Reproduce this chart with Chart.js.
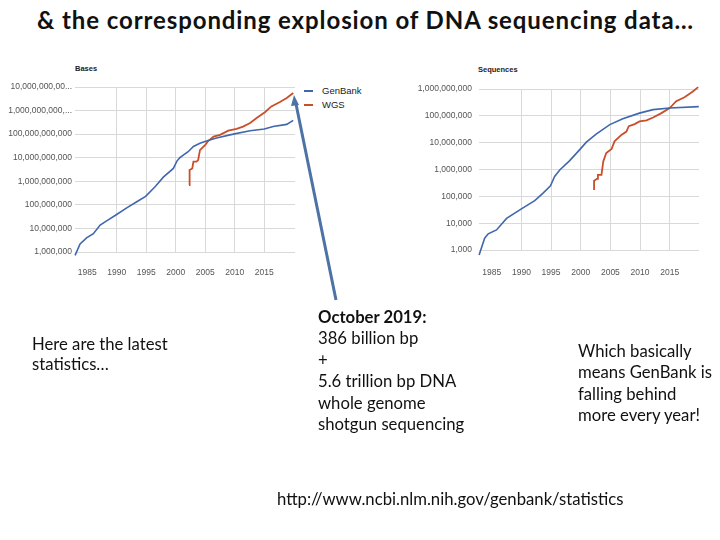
<!DOCTYPE html>
<html>
<head>
<meta charset="utf-8">
<script src="https://cdn.jsdelivr.net/npm/chart.js@4/dist/chart.umd.min.js"></script>
<style>
  body { margin: 0; width: 720px; height: 540px; background: #fff; position: relative; overflow: hidden; font-family: Lato, "Noto Sans", sans-serif; color: #111; }
  .abs { position: absolute; white-space: nowrap; }
  .title { left: 37px; top: 5px; font-size: 24px; letter-spacing: 0.9px; font-weight: bold; }
  .slide-text { font-size: 16.7px; line-height: 21.4px; }
  .small { font-family: "Liberation Sans", Arial, sans-serif; color: #222; }
  .legend-line { position: absolute; width: 9px; }
</style>
</head>
<body>
<div class="abs title" id="title">&amp; the corresponding explosion of DNA sequencing data…</div>

<div class="abs small" style="left:75px; top:64px; font-size:7.5px; font-weight:bold;">Bases</div>
<div class="abs small" style="left:478px; top:65px; font-size:7.5px; font-weight:bold;">Sequences</div>

<div class="abs" style="left:0; top:60px;"><canvas id="basesChart" width="300" height="225"></canvas></div>
<div class="abs" style="left:400px; top:60px;"><canvas id="seqChart" width="310" height="225"></canvas></div>

<div class="legend-line" style="left:304px; top:90px; height:1.5px; background:#4067ad;"></div>
<div class="abs small" style="left:322px; top:85px; font-size:9.5px;">GenBank</div>
<div class="legend-line" style="left:304px; top:104px; height:2px; background:#c94f2a;"></div>
<div class="abs small" style="left:322px; top:99px; font-size:9.5px;">WGS</div>

<svg class="abs" style="left:0; top:0;" width="720" height="540">
  <line x1="336" y1="300" x2="296" y2="104" stroke="#4d72a6" stroke-width="3"/>
  <polygon points="294,95 291,106 299,105" fill="#4d72a6"/>
</svg>

<div class="abs slide-text" style="left:32px; top:334px; line-height:20px;">Here are the latest<br>statistics…</div>
<div class="abs slide-text" style="left:318px; top:307px;"><b>October 2019:</b><br>386 billion bp<br>+<br>5.6 trillion bp DNA<br>whole genome<br>shotgun sequencing</div>
<div class="abs slide-text" style="left:578px; top:341px;">Which basically<br>means GenBank is<br>falling behind<br>more every year!</div>
<div class="abs slide-text" style="left:277px; top:489px;">http://www.ncbi.nlm.nih.gov/genbank/statistics</div>

<script>
// Bases (left panel)
const genbankBasesYears = [1982.95, 1983.8, 1984.9, 1986.05, 1987.2, 1988.3, 1990, 1991.7, 1993.4, 1994.9, 1996.5, 1997.9, 1999.6, 2000.2, 2000.7, 2002.1, 2003.0, 2004.1, 2005.2, 2006.9, 2009.75, 2012.6, 2015, 2016.5, 2018.8, 2019.9];
const genbankBases = [7.2e5, 2.2e6, 4e6, 6e6, 1.4e7, 2.1e7, 3.9e7, 7.4e7, 1.35e8, 2.3e8, 5.9e8, 1.5e9, 3.5e9, 7.2e9, 1e10, 1.8e10, 3e10, 4.1e10, 5.1e10, 6.8e10, 1e11, 1.4e11, 1.66e11, 2.1e11, 2.6e11, 3.86e11];
const wgsBasesYears = [2002.25, 2002.3, 2002.4, 2002.8, 2003.0, 2003.5, 2003.8, 2004.1, 2005.0, 2005.5, 2006.4, 2007.5, 2008.9, 2010.3, 2011.4, 2012.6, 2013.7, 2015.1, 2016.2, 2017.65, 2018.8, 2019.9];
const wgsBases = [6.9e8, 9.5e8, 3e9, 3.5e9, 6.8e9, 6.8e9, 7.9e9, 2.1e10, 3.5e10, 5.1e10, 7.9e10, 9.3e10, 1.4e11, 1.66e11, 2.1e11, 2.95e11, 4.8e11, 8.5e11, 1.5e12, 2.3e12, 3.4e12, 5.6e12];
const basesTickLabels = ["1,000,000", "10,000,000", "100,000,000", "1,000,000,000", "10,000,000,000", "100,000,000,000", "1,000,000,000,...", "10,000,000,00..."];

// Sequences (right panel)
const genbankSeqYears = [1982.87, 1983.8, 1984.4, 1985.8, 1987.5, 1990, 1992.25, 1993.65, 1994.9, 1995.6, 1996.5, 1998.1, 1999.8, 2000.95, 2002.6, 2004.9, 2007.1, 2009.9, 2012.2, 2015, 2019.9];
const genbankSeqs = [650, 2750, 4000, 5600, 15000, 34000, 69000, 132000, 245000, 550000, 980000, 2.1e6, 5.4e6, 1.05e7, 2.1e7, 4.7e7, 7.8e7, 1.26e8, 1.7e8, 1.95e8, 2.2e8];
const wgsSeqYears = [2002.25, 2002.25, 2002.75, 2002.9, 2003.5, 2003.8, 2004.3, 2005.2, 2005.7, 2006.85, 2007.7, 2008.1, 2009.1, 2009.9, 2011.1, 2012.2, 2013.6, 2015.0, 2016.1, 2017.5, 2018.9, 2019.8];
const wgsSeqs = [174000, 380000, 450000, 630000, 630000, 2e6, 4.1e6, 5.8e6, 1.12e7, 1.95e7, 2.6e7, 4.1e7, 4.9e7, 6.2e7, 6.8e7, 8.7e7, 1.26e8, 1.95e8, 3.5e8, 4.9e8, 8.1e8, 1.17e9];
const seqTickLabels = ["1,000", "10,000", "100,000", "1,000,000", "10,000,000", "100,000,000", "1,000,000,000"];

const yearTicks = [1985, 1990, 1995, 2000, 2005, 2010, 2015];

const blue = "#4067ad";
const red = "#c94f2a";
const gridColor = "#d9d9d9";
const tickFont = { family: "'Liberation Sans', Arial, sans-serif", size: 8.5 };

function toPoints(xs, ys) {
  return xs.map((x, i) => ({ x: x, y: ys[i] }));
}

function makeChart(canvasId, opts) {
  const minExp = opts.minExp;
  const maxExp = minExp + opts.tickLabels.length - 1;
  return new Chart(document.getElementById(canvasId), {
    type: "line",
    data: {
      datasets: [
        { label: "GenBank", data: toPoints(opts.gbYears, opts.gbValues), borderColor: blue, borderWidth: 1.6, pointRadius: 0, tension: 0, clip: false },
        { label: "WGS", data: toPoints(opts.wgsYears, opts.wgsValues), borderColor: red, borderWidth: 1.8, pointRadius: 0, tension: 0, clip: false }
      ]
    },
    options: {
      responsive: false,
      animation: false,
      layout: { padding: opts.padding },
      plugins: { legend: { display: false }, tooltip: { enabled: false } },
      scales: {
        x: {
          type: "linear",
          min: opts.xMin,
          max: opts.xMax,
          afterBuildTicks: axis => { axis.ticks = yearTicks.map(v => ({ value: v })); },
          afterFit: axis => { axis.height = opts.xHeight; },
          border: { display: false },
          grid: { drawTicks: false, color: ctx => (ctx.tick && ctx.tick.value === 1985) ? "rgba(0,0,0,0)" : gridColor },
          ticks: { font: tickFont, color: "#555", padding: opts.xPad, maxRotation: 0, callback: v => String(v) }
        },
        y: {
          type: "logarithmic",
          min: Math.pow(10, minExp),
          max: Math.pow(10, maxExp),
          afterBuildTicks: axis => {
            const t = [];
            for (let e = minExp; e <= maxExp; e++) t.push({ value: Math.pow(10, e) });
            axis.ticks = t;
          },
          afterFit: axis => { axis.width = opts.yWidth; },
          border: { display: false },
          grid: { drawTicks: false, color: gridColor },
          ticks: {
            font: tickFont,
            color: "#555",
            padding: opts.yPad,
            callback: v => opts.tickLabels[Math.round(Math.log10(v)) - minExp]
          }
        }
      }
    }
  });
}

makeChart("basesChart", {
  gbYears: genbankBasesYears, gbValues: genbankBases,
  wgsYears: wgsBasesYears, wgsValues: wgsBases,
  tickLabels: basesTickLabels, minExp: 6,
  xMin: 1982.94, xMax: 2020.2,
  padding: { top: 27, right: 5, left: 0, bottom: 0 },
  yWidth: 75, xHeight: 33, yPad: 3, xPad: 16
});

makeChart("seqChart", {
  gbYears: genbankSeqYears, gbValues: genbankSeqs,
  wgsYears: wgsSeqYears, wgsValues: wgsSeqs,
  tickLabels: seqTickLabels, minExp: 3,
  xMin: 1982.85, xMax: 2019.94,
  padding: { top: 29, right: 11, left: 0, bottom: 0 },
  yWidth: 79, xHeight: 35, yPad: 7, xPad: 18
});
</script>
</body>
</html>
